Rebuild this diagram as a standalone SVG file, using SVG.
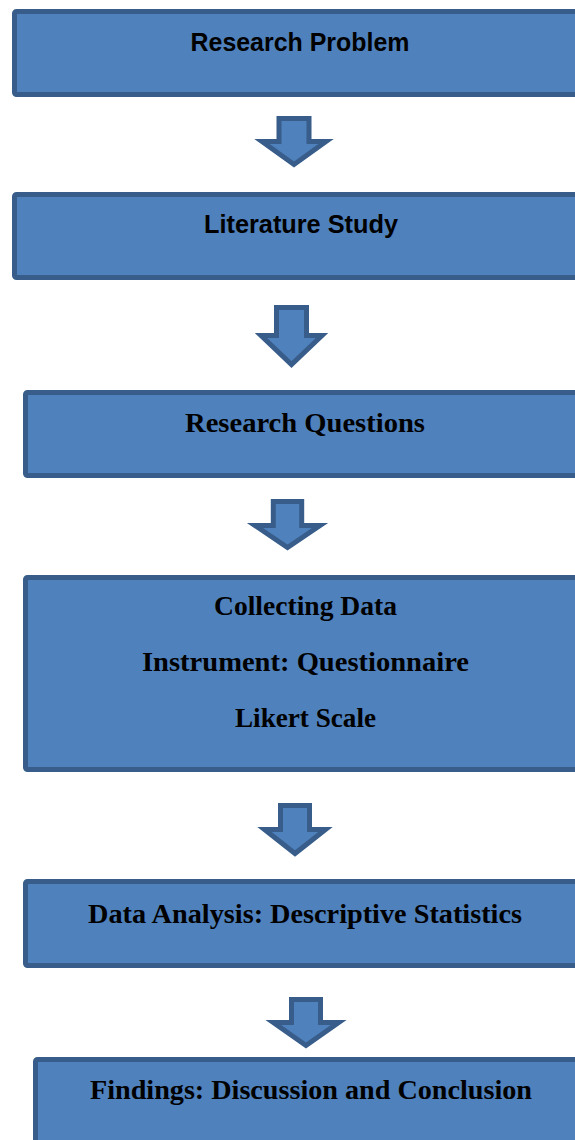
<svg xmlns="http://www.w3.org/2000/svg" width="575" height="1140" viewBox="0 0 575 1140">
<style>
.box{fill:#4F81BD;stroke:#385D8A;stroke-width:5}
.arrow{fill:#4F81BD;stroke:#385D8A;stroke-width:5;stroke-linejoin:miter}
.sans{font-family:"Liberation Sans",Arial,sans-serif;font-weight:bold;font-size:25px;fill:#000;text-anchor:middle}
.serif{font-family:"Liberation Serif","Times New Roman",serif;font-weight:bold;font-size:28px;fill:#000;text-anchor:middle}
</style>
<rect width="575" height="1140" fill="#fff"/>
<g id="connectors">
<path class="arrow" d="M279,118.5 H309 V141.5 H326 L294,164.5 L262,141.5 H279 Z"/>
<path class="arrow" d="M276.5,307.5 H306.5 V335.5 H322 L291.5,364.5 L261,335.5 H276.5 Z"/>
<path class="arrow" d="M273.3,501.5 H301.7 V525.5 H320 L287.5,547.5 L255,525.5 H273.3 Z"/>
<path class="arrow" d="M280.5,805.5 H309.5 V829.5 H325.5 L295,853.5 L264.5,829.5 H280.5 Z"/>
<path class="arrow" d="M291.5,999.5 H320.5 V1022.5 H338.7 L306,1045.5 L273.3,1022.5 H291.5 Z"/>
</g>
<g id="node-research-problem">
<rect class="box" x="14.5" y="11.5" width="580" height="83" rx="2"/>
<text class="sans" x="300" y="51" textLength="219" lengthAdjust="spacingAndGlyphs">Research Problem</text>
</g>
<g id="node-literature-study">
<rect class="box" x="14.5" y="194.5" width="580" height="83" rx="2"/>
<text class="sans" x="301" y="233" textLength="194" lengthAdjust="spacingAndGlyphs">Literature Study</text>
</g>
<g id="node-research-questions">
<rect class="box" x="25.5" y="392.5" width="570" height="83" rx="2"/>
<text class="serif" x="305" y="432" textLength="240" lengthAdjust="spacingAndGlyphs">Research Questions</text>
</g>
<g id="node-collecting-data">
<rect class="box" x="25.5" y="577.5" width="570" height="192" rx="2"/>
<text class="serif" x="305.5" y="615" textLength="183" lengthAdjust="spacingAndGlyphs">Collecting Data</text>
<text class="serif" x="305.5" y="670.5" textLength="327" lengthAdjust="spacingAndGlyphs">Instrument: Questionnaire</text>
<text class="serif" x="305.5" y="726.5" textLength="141" lengthAdjust="spacingAndGlyphs">Likert Scale</text>
</g>
<g id="node-data-analysis">
<rect class="box" x="25.5" y="881.5" width="570" height="84" rx="2"/>
<text class="serif" x="305" y="923" textLength="434" lengthAdjust="spacingAndGlyphs">Data Analysis: Descriptive Statistics</text>
</g>
<g id="node-findings">
<rect class="box" x="35.5" y="1059.5" width="560" height="100" rx="2"/>
<text class="serif" x="311" y="1099" textLength="442" lengthAdjust="spacingAndGlyphs">Findings: Discussion and Conclusion</text>
</g>
</svg>
